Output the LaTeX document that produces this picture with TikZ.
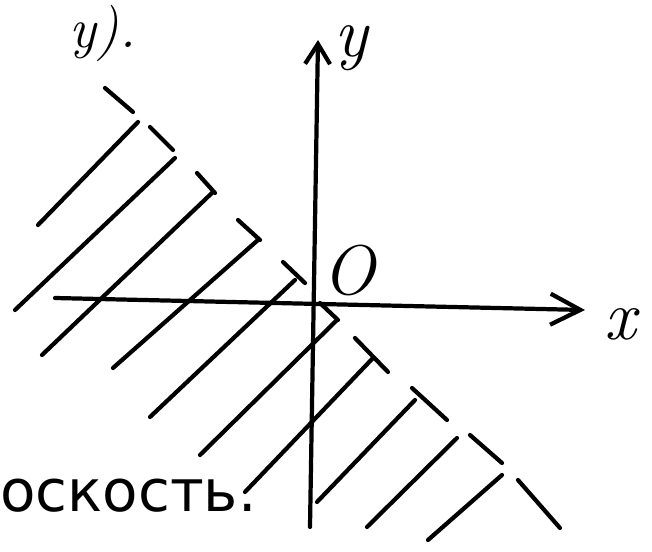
\documentclass[tikz,border=0pt]{standalone}
\usepackage{fontspec}
\newfontfamily\cyrfont{DejaVu Sans}
\usetikzlibrary{arrows.meta}
\tikzset{
  pen/.style={line width=2.4pt, line cap=round},
  xaxis/.style={pen, -{Straight Barb[length=0.6cm,width=0.62cm]}},
  yaxis/.style={pen, -{Straight Barb[length=0.4cm,width=0.5cm]}},
  lbl/.style={inner sep=0pt, font=\itshape\fontsize{40}{40}\selectfont},
  word/.style={inner sep=0pt, font=\cyrfont\fontsize{33}{33}\selectfont},
}
\begin{document}
\begin{tikzpicture}
\useasboundingbox (-6.36,-5.06) rectangle (6.68,5.96);
\coordinate (O) at (0,0);
\coordinate (xstart) at (-5.26,0);
\coordinate (xend) at (5.34,-0.24);
\coordinate (ystart) at (-0.16,-4.58);
\coordinate (yend) at (0,5.16);
\draw[xaxis] (xstart) -- (xend);
\draw[yaxis] (ystart) -- (yend);
\node[lbl] (xlab) at (6.05,-0.52) {x};
\node[lbl] (ylab) at (0.66,5.0) {y};
\node[lbl] (olab) at (0.62,0.55) {O};

% boundary line y=-x, dashed by hand
\foreach \xa/\ya/\xb/\yb in {-4.26/4.2/-3.7/3.72, -3.36/3.42/-2.9/2.96,
  -2.42/2.5/-2.06/2.1, -1.6/1.56/-1.16/1.16, -0.7/0.72/-0.26/0.3,
  0.04/-0.1/0.4/-0.44, 0.74/-0.8/1.4/-1.48, 1.88/-1.8/2.58/-2.44,
  3.04/-2.74/3.68/-3.3, 4.0/-3.64/4.84/-4.6}
  \draw[pen] (\xa,\ya) -- (\xb,\yb);

% hatching of the half-plane
\foreach \xa/\ya/\xb/\yb in {-3.6/3.52/-5.6/1.46, -2.86/2.8/-6.06/-0.24,
  -2.1/2.12/-5.52/-1.14, -1.2/1.16/-4.1/-1.4, -0.46/0.36/-3.36/-2.38,
  0.38/-0.44/-2.36/-3.14, 1.1/-1.2/-1.46/-3.88, 1.94/-2.04/-0.02/-4.08,
  2.78/-2.8/0.98/-4.58, 3.68/-3.54/2.2/-4.84}
  \draw[pen] (\xa,\ya) -- (\xb,\yb);

\node[lbl, font=\itshape\fontsize{32}{32}\selectfont] (toptext) at (-4.3,5.3) {y).};
\node[word, anchor=west] (bottomtext) at (-6.36,-3.96) {оскость.};
\end{tikzpicture}
\end{document}
